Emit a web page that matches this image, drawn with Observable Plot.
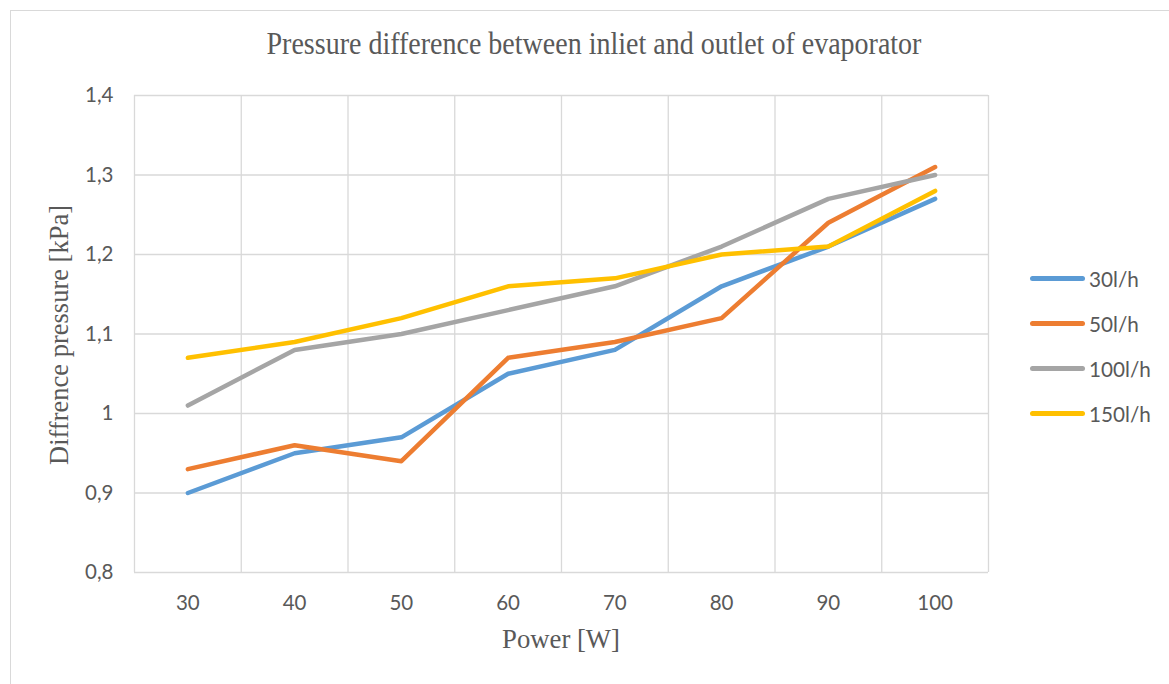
<!DOCTYPE html>
<html>
<head>
<meta charset="utf-8">
<script src="https://cdn.jsdelivr.net/npm/d3@7"></script>
<script src="https://cdn.jsdelivr.net/npm/@observablehq/plot@0.6"></script>
<style>
  html, body { margin: 0; padding: 0; background: #fff; }
  #wrap { position: relative; width: 1169px; height: 684px; overflow: hidden; }
  #frame { position: absolute; left: 10px; top: 10px; width: 1200px; height: 700px; border: 1px solid #d9d9d9; box-sizing: border-box; }
  .serif { font-family: "Liberation Serif", "DejaVu Serif", serif; color: #595959; position: absolute; white-space: nowrap; }
  #title { left: 0; width: 1188px; top: 28px; text-align: center; font-size: 28px; transform: scaleY(1.12); }
  #xlabel { left: 0; width: 1122px; top: 624px; text-align: center; font-size: 26.7px; }
  #ylabel { left: 59px; top: 335px; font-size: 26.5px; transform: translate(-50%, -50%) rotate(-90deg); }
  #legend { position: absolute; left: 1030px; top: 256px; font-family: Lato, "Open Sans", sans-serif; font-size: 20.7px; color: #595959; }
  .item { display: flex; align-items: center; height: 45px; }
  .sw { width: 55px; height: 4.5px; border-radius: 3px; margin-right: 4px; }
  #chart { position: absolute; left: 0; top: 0; }
</style>
</head>
<body>
<div id="wrap">
  <div id="frame"></div>
  <div id="chart"></div>
  <div id="title" class="serif">Pressure difference between inliet and outlet of evaporator</div>
  <div id="xlabel" class="serif">Power [W]</div>
  <div id="ylabel" class="serif">Diffrence pressure [kPa]</div>
  <div id="legend"></div>
</div>
<script>
const powers = [30, 40, 50, 60, 70, 80, 90, 100];
const seriesNames = ["30l/h", "50l/h", "100l/h", "150l/h"];
const colors = ["#5B9BD5", "#ED7D31", "#A5A5A5", "#FFC000"];
const s30 = [0.90, 0.95, 0.97, 1.05, 1.08, 1.16, 1.21, 1.27];
const s50 = [0.93, 0.96, 0.94, 1.07, 1.09, 1.12, 1.24, 1.31];
const s100 = [1.01, 1.08, 1.10, 1.13, 1.16, 1.21, 1.27, 1.30];
const s150 = [1.07, 1.09, 1.12, 1.16, 1.17, 1.20, 1.21, 1.28];
const yTicks = [0.8, 0.9, 1.0, 1.1, 1.2, 1.3, 1.4];

const allSeries = [s30, s50, s100, s150];
const data = [];
allSeries.forEach((vals, i) => vals.forEach((v, j) => data.push({series: seriesNames[i], power: powers[j], value: v})));

const step = powers[1] - powers[0];
const xBounds = [...powers.map(p => p - step / 2), powers[powers.length - 1] + step / 2];
const yFmt = d => d3.format(".1~f")(d).replace(".", ",");

const plot = Plot.plot({
  width: 1169,
  height: 684,
  marginLeft: 134,
  marginRight: 181,
  marginTop: 95,
  marginBottom: 112,
  style: {background: "transparent", fontFamily: "Lato, 'Open Sans', sans-serif", fontSize: "20.5px", color: "#595959"},
  x: {domain: [xBounds[0], xBounds[xBounds.length - 1]], label: null},
  y: {domain: [yTicks[0], yTicks[yTicks.length - 1]], label: null},
  color: {domain: seriesNames, range: colors},
  marks: [
    Plot.ruleY(yTicks, {stroke: "#d9d9d9", strokeWidth: 1.3, strokeOpacity: 1}),
    Plot.ruleX(xBounds, {stroke: "#d9d9d9", strokeWidth: 1.3, strokeOpacity: 1}),
    Plot.axisX({ticks: powers, tickSize: 0, tickPadding: 23, tickFormat: d => String(d), label: null, fontSize: 20.5}),
    Plot.axisY({ticks: yTicks, tickSize: 0, tickPadding: 21, tickFormat: yFmt, label: null, fontSize: 20.5}),
    Plot.line(data, {x: "power", y: "value", z: "series", stroke: "series", strokeWidth: 4.5, strokeLinecap: "round", strokeLinejoin: "round"})
  ]
});
document.getElementById("chart").appendChild(plot);

const legend = document.getElementById("legend");
seriesNames.forEach((n, i) => {
  const it = document.createElement("div");
  it.className = "item";
  it.innerHTML = `<div class="sw" style="background:${colors[i]}"></div><span>${n}</span>`;
  legend.appendChild(it);
});
</script>
</body>
</html>
